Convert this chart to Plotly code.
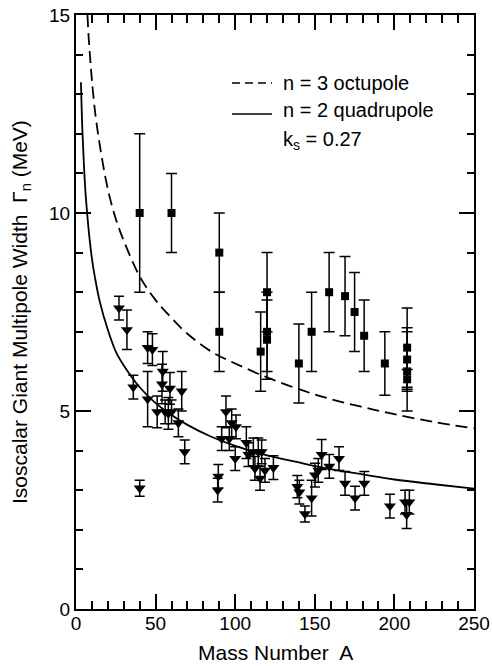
import plotly.graph_objects as go

# ---- data ----
# Octupole (n = 3) measured widths: squares
oct_A   = [40, 60, 90, 90, 116, 120, 120, 120, 140, 148, 159, 169, 175, 181, 194, 208, 208, 208, 208]
oct_G   = [10.0, 10.0, 9.0, 7.0, 6.5, 8.0, 7.0, 6.8, 6.2, 7.0, 8.0, 7.9, 7.5, 6.9, 6.2, 6.6, 6.3, 6.0, 5.8]
oct_err = [2.0, 1.0, 1.0, 1.0, 1.0, 1.0, 1.0, 1.0, 1.0, 1.0, 1.0, 1.0, 1.0, 0.9, 0.8, 1.0, 0.8, 1.0, 0.25]

# Quadrupole (n = 2) measured widths: down triangles
quad_A = [27, 32, 45, 48, 36, 40, 45, 51, 54.5, 54, 56, 58, 59, 60, 64.3, 66.4, 68.3,
          89.4, 89, 91.5, 94.2, 96.3, 97.8, 100.5, 100, 107, 108.3, 111.4, 114.5, 116.6,
          112.4, 115.6, 118.7, 124, 139, 140.3, 143.8, 148, 150.1, 152.2, 154.3, 159.1,
          165.2, 169, 175.3, 181.1, 197.2, 206.7, 209.4, 207.7]
quad_G = [7.6, 7.05, 6.6, 6.55, 5.6, 3.05, 5.3, 4.98, 6.0, 5.68, 4.98, 4.94, 5.57, 4.98, 4.7, 5.5, 3.97,
          3.35, 3.0, 4.3, 4.98, 4.3, 4.7, 4.6, 3.8, 4.2, 3.9, 3.97, 3.97, 3.97,
          3.55, 3.3, 3.5, 3.57, 3.09, 2.95, 2.4, 2.8, 3.38, 3.5, 3.9, 3.6,
          3.8, 3.17, 2.8, 3.17, 2.6, 2.7, 2.7, 2.38]
quad_err = [0.3, 0.5, 0.4, 0.4, 0.3, 0.2, 0.7, 0.4, 0.5, 0.5, 0.3, 0.4, 0.4, 0.3, 0.35, 0.5, 0.3,
            0.3, 0.3, 0.3, 0.4, 0.3, 0.35, 0.3, 0.3, 0.4, 0.3, 0.35, 0.35, 0.3,
            0.3, 0.3, 0.3, 0.3, 0.28, 0.3, 0.2, 0.45, 0.3, 0.3, 0.38, 0.3,
            0.3, 0.3, 0.3, 0.3, 0.3, 0.3, 0.3, 0.35]

# Model curves
c3_A = [7.2, 8, 9, 10, 12, 15, 20, 25, 30, 40, 50, 60, 70, 85, 100, 120, 140, 160, 180, 200, 225, 250]
c3_G = [15.0, 14.4, 13.85, 13.35, 12.55, 11.7, 10.6, 9.85, 9.3, 8.4, 7.8, 7.35, 6.95, 6.5, 6.2,
        5.85, 5.55, 5.3, 5.1, 4.92, 4.72, 4.56]
c2_A = [3.1, 4, 5, 6, 7, 8, 10, 12, 15, 20, 25, 30, 40, 50, 60, 70, 85, 100, 120, 140, 160, 180, 200, 225, 250]
c2_G = [13.3, 12.1, 11.2, 10.5, 10.0, 9.55, 8.85, 8.35, 7.75, 7.05, 6.5, 6.15, 5.6, 5.2, 4.9, 4.65,
        4.35, 4.12, 3.88, 3.7, 3.53, 3.4, 3.27, 3.15, 3.04]

x_ticks = [0, 50, 100, 150, 200, 250]
y_ticks = [0, 5, 10, 15]

FONT = "Liberation Sans, Arial, sans-serif"

fig = go.Figure()

fig.add_trace(go.Scatter(x=c3_A, y=c3_G, mode="lines",
                         line=dict(color="black", width=1.8, dash="12px,6px", shape="spline"),
                         showlegend=False, hoverinfo="skip"))
fig.add_trace(go.Scatter(x=c2_A, y=c2_G, mode="lines",
                         line=dict(color="black", width=1.8, shape="spline"),
                         showlegend=False, hoverinfo="skip"))

fig.add_trace(go.Scatter(x=oct_A, y=oct_G, mode="markers",
                         marker=dict(symbol="square", size=8, color="black", line=dict(width=0)),
                         error_y=dict(type="data", array=oct_err, width=5.5, thickness=1.5, color="black"),
                         showlegend=False))
fig.add_trace(go.Scatter(x=quad_A, y=quad_G, mode="markers",
                         marker=dict(symbol="triangle-down", size=10.5, color="black", line=dict(width=0)),
                         error_y=dict(type="data", array=quad_err, width=5, thickness=1.5, color="black"),
                         showlegend=False))

# layout geometry (pixels)
L, R, T, B = 76, 474, 15, 609
W, H = 492, 666
def px(xp):
    return (xp - L) / (R - L)
def py(yp):
    return (B - yp) / (B - T)

# legend drawn as line samples + text
fig.add_shape(type="line", xref="paper", yref="paper", x0=px(232), x1=px(272), y0=py(83), y1=py(83),
              line=dict(color="black", width=1.6, dash="8px,5px"))
fig.add_shape(type="line", xref="paper", yref="paper", x0=px(232), x1=px(272), y0=py(114), y1=py(114),
              line=dict(color="black", width=1.6))
leg_font = dict(family=FONT, size=20, color="black")
fig.add_annotation(xref="paper", yref="paper", x=px(281), y=py(83), text="n = 3 octupole",
                   showarrow=False, xanchor="left", yanchor="middle", font=leg_font)
fig.add_annotation(xref="paper", yref="paper", x=px(281), y=py(110), text="n = 2 quadrupole",
                   showarrow=False, xanchor="left", yanchor="middle", font=leg_font)
fig.add_annotation(xref="paper", yref="paper", x=px(281), y=py(140), text="k<sub>s</sub> = 0.27",
                   showarrow=False, xanchor="left", yanchor="middle", font=leg_font)

# axis titles
title_font = dict(family=FONT, size=21, color="black")
fig.add_annotation(xref="paper", yref="paper", x=0.5, y=py(652), text="Mass Number  A",
                   showarrow=False, xanchor="center", yanchor="middle", font=title_font)
fig.add_annotation(xref="paper", yref="paper", x=px(21), y=0.5,
                   text="Isoscalar Giant Multipole Width  Γ<sub>n</sub> (MeV)", textangle=-90,
                   showarrow=False, xanchor="center", yanchor="middle", font=title_font)

axis_common = dict(showline=True, linecolor="black", linewidth=2, mirror="ticks",
                   ticks="inside", tickcolor="black", tickwidth=1.5, ticklen=15,
                   showgrid=False, zeroline=False, automargin=False,
                   tickfont=dict(family=FONT, size=19, color="black"))

fig.update_xaxes(range=[0, 250], tickvals=x_ticks, ticktext=[str(v) for v in x_ticks],
                 ticklabelstandoff=-4,
                 minor=dict(dtick=10, ticks="inside", ticklen=8, tickwidth=1.5, tickcolor="black", showgrid=False),
                 **axis_common)
fig.update_yaxes(range=[0, 15], tickvals=y_ticks, ticktext=[str(v) for v in y_ticks],
                 minor=dict(dtick=1, ticks="inside", ticklen=7, tickwidth=1.5, tickcolor="black", showgrid=False),
                 **axis_common)

fig.update_layout(width=W, height=H, margin=dict(l=L, r=W - R, t=T, b=H - B, autoexpand=False),
                  plot_bgcolor="white", paper_bgcolor="white", font=dict(family=FONT, color="black"))

fig.write_html("out.html")
